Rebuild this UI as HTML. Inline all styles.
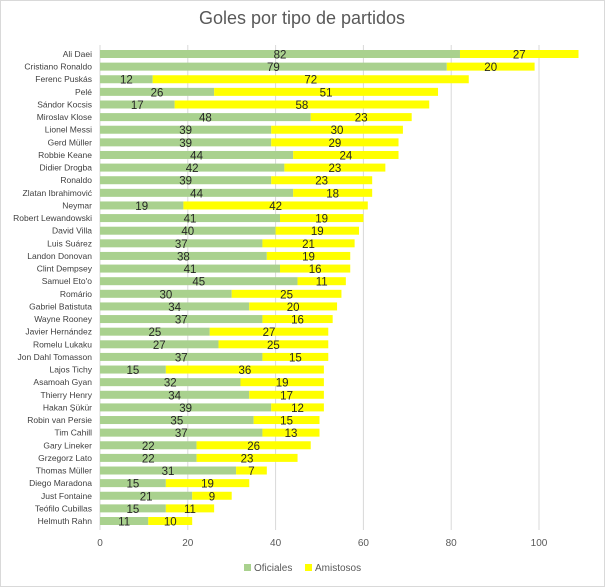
<!DOCTYPE html>
<html><head><meta charset="utf-8"><style>
body{margin:0;background:#fff}
svg{display:block;font-family:"Liberation Sans",sans-serif}
</style></head><body>
<svg width="605" height="587" xmlns="http://www.w3.org/2000/svg" id="s">
<rect x="0.5" y="0.5" width="604" height="586" fill="#fff" stroke="#d9d9d9"/>
<text x="302" y="24" text-anchor="middle" font-size="18" fill="#595959">Goles por tipo de partidos</text>
<g id="g"></g>
</svg>
<script>
var d=[["Ali Daei",82,27],["Cristiano Ronaldo",79,20],["Ferenc Puskás",12,72],["Pelé",26,51],["Sándor Kocsis",17,58],["Miroslav Klose",48,23],["Lionel Messi",39,30],["Gerd Müller",39,29],["Robbie Keane",44,24],["Didier Drogba",42,23],["Ronaldo",39,23],["Zlatan Ibrahimović",44,18],["Neymar",19,42],["Robert Lewandowski",41,19],["David Villa",40,19],["Luis Suárez",37,21],["Landon Donovan",38,19],["Clint Dempsey",41,16],["Samuel Eto'o",45,11],["Romário",30,25],["Gabriel Batistuta",34,20],["Wayne Rooney",37,16],["Javier Hernández",25,27],["Romelu Lukaku",27,25],["Jon Dahl Tomasson",37,15],["Lajos Tichy",15,36],["Asamoah Gyan",32,19],["Thierry Henry",34,17],["Hakan Şükür",39,12],["Robin van Persie",35,15],["Tim Cahill",37,13],["Gary Lineker",22,26],["Grzegorz Lato",22,23],["Thomas Müller",31,7],["Diego Maradona",15,19],["Just Fontaine",21,9],["Teófilo Cubillas",15,11],["Helmuth Rahn",11,10]];
var x0=100,k=4.39,h='';
for(var i=0;i<=5;i++){var x=x0+i*20*k;h+='<line x1="'+x+'" y1="45" x2="'+x+'" y2="530" stroke="#d9d9d9"/><text x="'+x+'" y="546" text-anchor="middle" font-size="10" fill="#595959">'+(i*20)+'</text>';}
// d has 38 entries; fit rows 54..521
var n=d.length,step=(521-54)/(n-1);
d.forEach(function(r,i){var y=54+i*step,a=r[1]*k,b=r[2]*k;
h+='<text x="92" y="'+(y+3)+'" text-anchor="end" font-size="8.5" fill="#404040">'+r[0]+'</text>';
h+='<rect x="'+x0+'" y="'+(y-4)+'" width="'+a+'" height="8" fill="#a9d18e"/>';
h+='<rect x="'+(x0+a)+'" y="'+(y-4)+'" width="'+b+'" height="8" fill="#ffff00"/>';
h+='<text x="'+(x0+a/2)+'" y="'+(y+4.5)+'" text-anchor="middle" font-size="11.5" fill="#262626">'+r[1]+'</text>';
h+='<text x="'+(x0+a+b/2)+'" y="'+(y+4.5)+'" text-anchor="middle" font-size="11.5" fill="#262626">'+r[2]+'</text>';});
h+='<rect x="244" y="564" width="7" height="7" fill="#a9d18e"/><text x="254" y="571" font-size="10" fill="#595959">Oficiales</text>';
h+='<rect x="305" y="564" width="7" height="7" fill="#ffff00"/><text x="315" y="571" font-size="10" fill="#595959">Amistosos</text>';
document.getElementById('g').innerHTML=h;
</script>
</body></html>
